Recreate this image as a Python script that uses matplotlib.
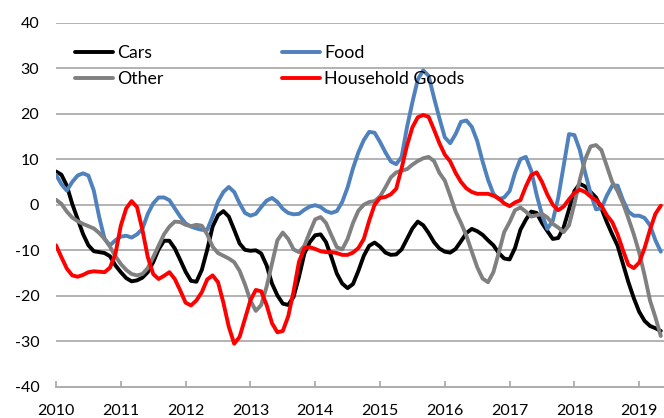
import numpy as np

import matplotlib
matplotlib.use('Agg')

import matplotlib.pyplot as plt

# monthly values, Jan 2010 .. May 2019
cars = [7.3, 6.6, 4.2, 0.2, -3.1, -6.4, -8.9, -10.2, -10.4, -10.6,
        -11.3, -13.3, -14.8, -16.1, -16.8, -16.6, -16.0, -14.8, -12.6, -9.8,
        -7.9, -7.9, -9.6, -12.1, -14.7, -16.7, -16.9, -14.3, -9.9, -4.8,
        -2.3, -1.4, -2.6, -5.5, -8.5, -9.9, -10.1, -10.0, -10.7, -13.3,
        -17.3, -19.9, -21.7, -22.0, -20.2, -15.8, -10.7, -8.2, -6.7, -6.5,
        -8.2, -11.5, -15.1, -17.3, -18.3, -17.4, -14.5, -11.2, -9.0, -8.3,
        -9.2, -10.5, -11.0, -10.9, -9.8, -7.5, -5.2, -3.7, -4.5, -6.2,
        -8.2, -9.6, -10.3, -10.5, -9.7, -8.0, -6.2, -5.3, -5.8, -6.6,
        -7.8, -8.9, -10.6, -11.8, -12.0, -9.5, -5.5, -3.3, -1.5, -1.8,
        -4.0, -5.8, -7.5, -7.3, -5.0, -1.0, 3.0, 4.6, 4.0, 2.8,
        1.6, -0.8, -3.8, -6.5, -9.0, -13.0, -17.0, -20.5, -23.5, -25.5,
        -26.6, -27.1, -27.7]

food = [6.6, 4.5, 3.1, 5.0, 6.4, 6.9, 6.4, 3.1, -2.7, -7.5,
        -8.9, -7.8, -7.0, -6.8, -7.2, -6.5, -5.3, -2.0, 0.3, 1.6,
        1.6, 1.0, -0.8, -2.6, -4.1, -4.8, -5.2, -5.5, -5.5, -2.6,
        0.7, 2.8, 3.9, 2.8, 0.3, -1.8, -2.4, -2.0, -0.5, 0.9,
        1.5, 0.6, -0.9, -1.8, -2.1, -2.0, -1.1, -0.4, -0.1, -0.5,
        -1.4, -1.8, -1.4, 0.6, 3.8, 8.0, 11.5, 14.2, 16.0, 15.8,
        13.8, 11.5, 9.5, 8.9, 10.5, 17.0, 22.5, 27.5, 29.5, 28.3,
        23.5, 19.0, 14.8, 13.5, 15.5, 18.2, 18.5, 17.1, 14.0, 9.5,
        5.5, 2.4, 1.2, 1.6, 3.0, 7.0, 10.0, 10.5, 7.5, 2.2,
        -2.2, -5.3, -3.5, 1.5, 8.5, 15.5, 15.3, 12.0, 7.0, 2.5,
        -1.0, -0.8, 2.0, 4.2, 4.2, 1.0, -1.5, -2.4, -2.4, -2.9,
        -4.5, -7.8, -10.3]

other = [1.1, 0.2, -1.5, -2.8, -3.6, -4.2, -4.7, -5.2, -6.2, -7.5,
         -9.2, -11.3, -13.0, -14.3, -15.2, -15.5, -15.2, -13.9, -11.5, -9.0,
         -6.5, -4.8, -3.7, -3.8, -4.4, -4.7, -4.4, -4.6, -6.5, -9.2,
         -10.6, -11.2, -11.8, -12.6, -14.5, -17.5, -21.0, -23.3, -22.0, -18.0,
         -12.9, -7.8, -6.1, -7.5, -9.8, -10.4, -9.0, -6.0, -3.2, -2.7,
         -4.0, -6.7, -9.3, -9.8, -7.5, -4.0, -1.3, 0.0, 0.6, 0.8,
         1.8, 3.8, 6.0, 7.1, 7.5, 7.8, 8.8, 9.6, 10.2, 10.5,
         9.6, 7.0, 5.3, 2.0, -1.5, -4.0, -6.8, -10.3, -13.7, -16.2,
         -17.0, -14.8, -10.5, -6.0, -3.8, -1.2, -0.6, -1.5, -2.6, -2.3,
         -2.0, -2.8, -4.2, -5.0, -6.0, -4.5, 0.2, 5.5, 10.0, 12.8,
         13.1, 12.0, 8.5, 5.0, 3.0, 0.3, -3.0, -6.5, -10.5, -15.5,
         -21.0, -24.7, -28.8]

household = [-8.9, -11.5, -14.0, -15.5, -15.8, -15.4, -14.8, -14.6, -14.7, -14.8,
             -13.8, -10.8, -4.6, -0.8, 0.8, -0.5, -5.5, -11.5, -15.2, -16.3,
             -15.6, -14.8, -16.3, -18.8, -21.5, -22.1, -21.0, -19.2, -16.4, -15.5,
             -17.0, -21.5, -26.8, -30.5, -29.0, -25.0, -21.0, -18.7, -19.0, -22.0,
             -26.0, -28.0, -27.7, -24.5, -19.0, -12.5, -9.5, -9.3, -9.7, -10.2,
             -10.4, -10.4, -10.6, -11.0, -11.0, -10.5, -9.5, -7.5, -3.5, 0.0,
             1.5, 1.7, 2.3, 3.5, 8.0, 13.0, 17.0, 19.2, 19.7, 19.3,
             16.5, 13.5, 11.0, 9.5, 7.0, 5.0, 3.6, 2.8, 2.4, 2.4,
             2.4, 2.0, 1.4, 0.3, -0.3, 0.5, 1.0, 4.0, 6.5, 7.1,
             5.0, 2.2, 0.0, -1.2, -0.4, 1.2, 2.6, 3.3, 2.8, 1.8,
             1.0, -0.2, -2.3, -3.8, -6.5, -10.0, -13.2, -13.9, -12.7, -9.5,
             -5.5, -2.0, -0.2]

SERIES = [('Cars', cars, '#000000'),
          ('Food', food, '#4F81BD'),
          ('Other', other, '#808080'),
          ('Household Goods', household, '#FF0000')]

YEARS = list(range(2010, 2020))

plt.rcParams['font.family'] = ['Lato', 'DejaVu Sans']
plt.rcParams['font.size'] = 11.5
plt.rcParams['axes.unicode_minus'] = False

GRID = '#A6A6A6'


def make_chart(out_file):
    fig = plt.figure(figsize=(6.64, 4.18), dpi=100)
    ax = fig.add_axes([56 / 664., 1 - 387 / 418., 608 / 664., 364.5 / 418.])

    lines = {}
    for name, vals, col in SERIES:
        t = YEARS[0] + np.arange(len(vals)) / 12.0
        ln, = ax.plot(t, vals, color=col, lw=2.8, label=name,
                      solid_joinstyle='round', solid_capstyle='round')
        lines[name] = ln

    ax.set_xlim(2010, 2010 + 608 / 64.8)
    ax.set_ylim(-40, 40)
    ax.set_yticks(range(-40, 41, 10))
    ax.set_xticks(YEARS)
    ax.set_xticklabels([str(y) for y in YEARS])

    for v in range(-30, 41, 10):
        ax.axhline(v, color=GRID, lw=1.2, zorder=0)

    for s in ('left', 'top', 'right'):
        ax.spines[s].set_visible(False)
    ax.spines['bottom'].set_color(GRID)
    ax.spines['bottom'].set_linewidth(1.3)

    ax.tick_params(axis='y', length=0, pad=12)
    ax.tick_params(axis='x', direction='in', length=4, width=1.2,
                   color=GRID, pad=12)

    # excel fills legend row-wise, matplotlib column-wise
    order = ['Cars', 'Other', 'Food', 'Household Goods']
    ax.legend([lines[n] for n in order], order, ncol=2, frameon=False,
              loc='upper left', bbox_to_anchor=(75 / 664., 1 - 45 / 418.),
              bbox_transform=fig.transFigure, borderpad=0, borderaxespad=0,
              fontsize=12.8, handlelength=2.13, handletextpad=0.22,
              columnspacing=6.7, labelspacing=0.58)

    fig.savefig(out_file, dpi=100)
    return fig, ax


make_chart('out.png')
